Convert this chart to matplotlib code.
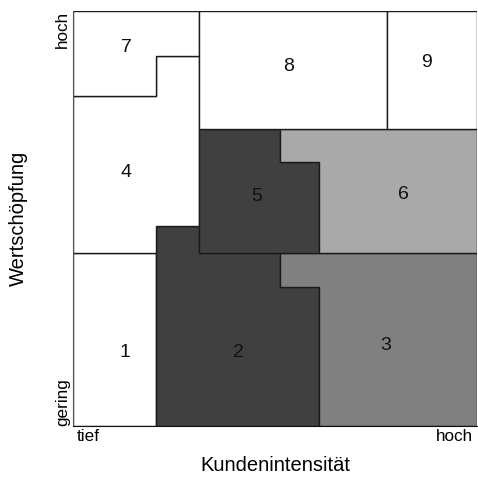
import matplotlib.pyplot as plt
from matplotlib.patches import Polygon

plt.rcParams['font.family'] = ['Liberation Sans', 'DejaVu Sans']

# Grenzen der Felder (0..100 auf beiden Achsen)
xb = [0, 20.5, 31.1, 51.3, 60.9, 77.6, 100]
yb = [0, 33.6, 41.6, 48.3, 63.5, 71.6, 79.5, 89.2, 100]

feld_nr = ['1', '2', '3', '4', '5', '6', '7', '8', '9']
feld_farbe = ['white', '#404040', '#808080', 'white', '#404040', '#a9a9a9',
              'white', 'white', 'white']
# Eckpunkte als (x-Index, y-Index) in xb / yb
feld_ecken = [
    [(0, 0), (1, 0), (1, 2), (0, 2)],
    [(1, 0), (4, 0), (4, 1), (3, 1), (3, 2), (2, 2), (2, 3), (1, 3)],
    [(4, 0), (6, 0), (6, 2), (3, 2), (3, 1), (4, 1)],
    [(0, 2), (1, 2), (1, 3), (2, 3), (2, 7), (1, 7), (1, 6), (0, 6)],
    [(2, 2), (4, 2), (4, 4), (3, 4), (3, 5), (2, 5)],
    [(4, 2), (6, 2), (6, 5), (3, 5), (3, 4), (4, 4)],
    [(0, 6), (1, 6), (1, 7), (2, 7), (2, 8), (0, 8)],
    [(2, 5), (5, 5), (5, 8), (2, 8)],
    [(5, 5), (6, 5), (6, 8), (5, 8)],
]
label_x = [12.9, 40.8, 77.4, 13.1, 45.5, 81.6, 13.1, 53.4, 87.5]
label_y = [17.8, 17.8, 19.3, 61.0, 55.4, 55.9, 91.1, 86.7, 87.7]

fig = plt.figure(figsize=(4.78, 4.82), dpi=100)
ax = fig.add_axes([0.1527, 0.1162, 0.8462, 0.861])

for nr, farbe, ecken, lx, ly in zip(feld_nr, feld_farbe, feld_ecken, label_x, label_y):
    pts = [(xb[i], yb[j]) for i, j in ecken]
    ax.add_patch(Polygon(pts, closed=True, facecolor=farbe, edgecolor='#1a1a1a',
                         linewidth=1.0))
    ax.text(lx, ly, nr, ha='center', va='center', fontsize=14, color='#111111')

ax.set_xlim(0, 100)
ax.set_ylim(0, 100)
for s in ['top', 'right']:
    ax.spines[s].set_visible(False)
ax.spines['left'].set_color('#555555')
ax.spines['bottom'].set_color('#111111')

ax.set_xticks([1, 99])
ax.set_xticklabels(['tief', 'hoch'], fontsize=12.3)
ax.get_xticklabels()[0].set_ha('left')
ax.get_xticklabels()[1].set_ha('right')
ax.set_yticks([0, 100])
ax.set_yticklabels(['gering', 'hoch'], fontsize=12.3, rotation=90)
ax.get_yticklabels()[0].set_va('bottom')
ax.get_yticklabels()[1].set_va('top')
ax.tick_params(length=0, pad=2)

ax.set_xlabel('Kundenintensität', fontsize=14.5, va='center')
ax.set_ylabel('Wertschöpfung', fontsize=14.5, va='center')
ax.xaxis.set_label_coords(0.5, -0.096)
ax.yaxis.set_label_coords(-0.136, 0.5)

fig.savefig('out.png', dpi=100)
